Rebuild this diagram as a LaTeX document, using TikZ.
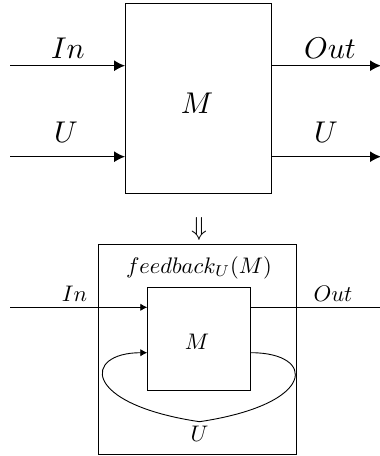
\documentclass[tikz,border=0pt]{standalone}
\usetikzlibrary{arrows.meta}
\begin{document}
\begin{tikzpicture}[x=1pt,y=-1pt,
  bigtxt/.style={scale=3.0, inner sep=0pt},
  smalltxt/.style={scale=2.25, inner sep=0pt},
  bigbox/.style={draw, line width=1.3pt, inner sep=0pt},
  smallbox/.style={draw, line width=0.9pt, inner sep=0pt},
  bigarrow/.style={line width=1.3pt, -{Latex[length=11pt,width=11pt]}},
  smallarrow/.style={line width=0.9pt, -{Latex[length=7pt,width=7.5pt]}},
  plainline/.style={line width=0.9pt}]
\useasboundingbox (0,0) rectangle (380,456);
% ---- top diagram ----
\node[bigbox, minimum width=146pt, minimum height=190pt] (M1) at (198.7,98.3) {};
\node[bigtxt] (M1t) at (197,103) {$M$};
\coordinate (a1) at (10,65.7);
\coordinate (a2) at (10,156.7);
\coordinate (b1) at (381,65.7);
\coordinate (b2) at (381,156.7);
\draw[bigarrow] (a1) -- (a1 -| M1.west);
\draw[bigarrow] (a2) -- (a2 -| M1.west);
\draw[bigarrow] (b1 -| M1.east) -- (b1);
\draw[bigarrow] (b2 -| M1.east) -- (b2);
\node[bigtxt] (lIn) at (68,48) {$In$};
\node[bigtxt] (lU1) at (66,132) {$U$};
\node[bigtxt] (lOut) at (330,48) {$Out$};
\node[bigtxt] (lU2) at (326,132) {$U$};
% ---- implication ----
\node[scale=2.6, inner sep=0pt] (impl) at (199,229) {$\Downarrow$};
% ---- bottom diagram ----
\node[smallbox, minimum width=197.7pt, minimum height=209.7pt] (F) at (197.2,349.2) {};
\node[smallbox, minimum width=103pt, minimum height=103.4pt] (M2) at (199.2,339) {};
\node[smalltxt] (M2t) at (197,341.7) {$M$};
\node[smalltxt] (fb) at (199,267.5) {$feedback_U(M)$};
\coordinate (c1) at (10,307.3);
\coordinate (d1) at (380,307.3);
\coordinate (lp) at (0,352.7);
\coordinate (bot) at (199.5,421.7);
\draw[smallarrow] (c1) -- (c1 -| M2.west);
\draw[plainline] (d1 -| M2.east) -- (d1);
\draw[smallarrow] (lp -| M2.east) .. controls (316,352.7) and (318,404) .. (bot)
   .. controls (81,404) and (83,352.7) .. (lp -| M2.west);
\node[smalltxt] (bIn) at (74.5,294) {$In$};
\node[smalltxt] (bOut) at (333,294) {$Out$};
\node[smalltxt] (bU) at (199.5,434) {$U$};
\end{tikzpicture}
\end{document}
